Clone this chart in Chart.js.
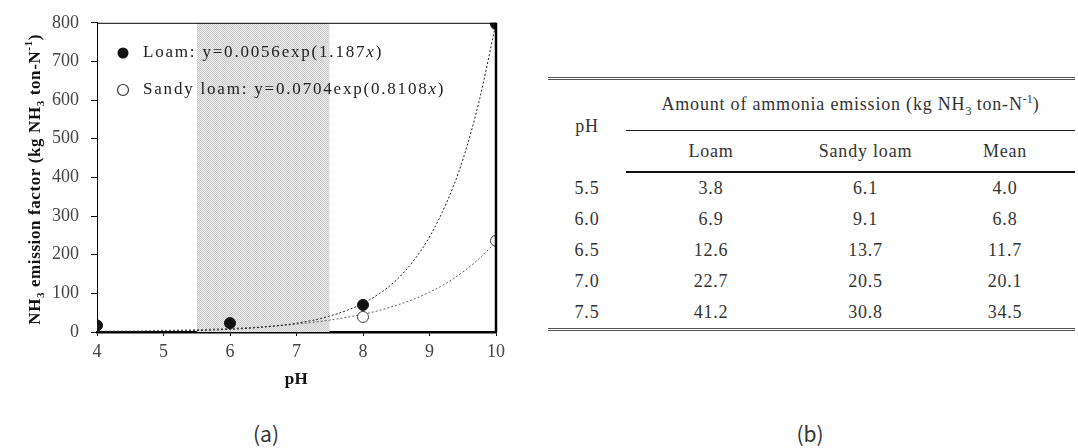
<!DOCTYPE html>
<html>
<head>
<meta charset="utf-8">
<script src="https://cdn.jsdelivr.net/npm/chart.js@4.4.1/dist/chart.umd.min.js"></script>
<style>
    html, body { margin: 0; padding: 0; background: #fff; }
    body { width: 1078px; height: 448px; position: relative; overflow: hidden; font-family: "Liberation Serif", serif; }
    #chartBox { position: absolute; left: 0; top: 0; width: 540px; height: 400px; }
    .legenda { position: absolute; top: 418px; width: 60px; text-align: center; line-height: 30px;
        font-family: "Noto Sans CJK KR", "DejaVu Sans", sans-serif; font-size: 21px; color: #333; }
    #tabela { position: absolute; left: 548px; top: 77px; width: 527px; border-collapse: collapse; table-layout: fixed;
        font-size: 18px; color: #333; letter-spacing: 0.8px; }
    #tabela th, #tabela td { padding: 0; text-align: center; vertical-align: middle; font-weight: normal; }
    #tabela tr.r1 th { height: 50px; border-top: 3px double #555; }
    #tabela th.grupo { border-bottom: 1px solid #222; }
    #tabela tr.r2 th { height: 40px; border-bottom: 2px solid #111; }
    #tabela td { height: 31px; }
    #tabela tbody tr:last-child td { border-bottom: 3px double #555; }
    #tabela sub, #tabela sup { font-size: 12px; letter-spacing: 0; }
</style>
</head>
<body>
<div id="chartBox"><canvas id="graficoPh"></canvas></div>
<div class="legenda" style="left:236px">(a)</div>
<div class="legenda" style="left:780px">(b)</div>

<table id="tabela">
    <colgroup><col style="width:78px"><col style="width:170px"><col style="width:139px"><col style="width:140px"></colgroup>
    <thead>
        <tr class="r1"><th rowspan="2">pH</th><th colspan="3" class="grupo">Amount of ammonia emission (kg NH<sub>3</sub> ton-N<sup>-1</sup>)</th></tr>
        <tr class="r2"><th>Loam</th><th>Sandy loam</th><th>Mean</th></tr>
    </thead>
    <tbody id="tabelaBody"></tbody>
</table>

<script>
// pontos medidos
const loamPh = [4, 6, 8, 10];
const loamValores = [17, 23, 70, 797];
const sandyPh = [8, 10];
const sandyValores = [39, 236];

// curvas ajustadas
const fitPh = [4, 4.5, 5, 5.5, 6, 6.5, 7, 7.5, 8, 8.25, 8.5, 8.75, 9, 9.25, 9.5, 9.75, 10];
const loamFit = [0.6, 1.2, 2.1, 3.8, 6.9, 12.6, 22.7, 41.2, 74, 100, 134, 182, 246, 332, 445, 600, 800];
const sandyFit = [1.8, 2.7, 4.1, 6.1, 9.1, 13.7, 20.5, 30.8, 46, 56, 69, 84, 103, 126, 155, 190, 233];

// faixa sombreada de pH
const faixaPh = [5.5, 7.5];

// tabela (b)
const tabelaPh = ['5.5', '6.0', '6.5', '7.0', '7.5'];
const tabelaLoam = ['3.8', '6.9', '12.6', '22.7', '41.2'];
const tabelaSandy = ['6.1', '9.1', '13.7', '20.5', '30.8'];
const tabelaMean = ['4.0', '6.8', '11.7', '20.1', '34.5'];

function renderizarTabela() {
    const corpo = document.getElementById('tabelaBody');
    tabelaPh.forEach((ph, i) => {
        const tr = document.createElement('tr');
        tr.innerHTML = `
            <td>${ph}</td>
            <td>${tabelaLoam[i]}</td>
            <td>${tabelaSandy[i]}</td>
            <td>${tabelaMean[i]}</td>
        `;
        corpo.appendChild(tr);
    });
}

function criarPadrao() {
    const c = document.createElement('canvas');
    c.width = 2; c.height = 2;
    const g = c.getContext('2d');
    g.fillStyle = '#efefef';
    g.fillRect(0, 0, 2, 2);
    g.fillStyle = '#c8c8c8';
    g.fillRect(0, 0, 1, 1);
    g.fillRect(1, 1, 1, 1);
    return g.createPattern(c, 'repeat');
}

// desenha texto em partes (normal, sub, sup, italico)
function desenharPartes(ctx, partes, x, y, tamanho, peso, espaco) {
    ctx.save();
    ctx.letterSpacing = espaco + 'px';
    partes.forEach(p => {
        let t = tamanho, dy = 0, estilo = '';
        if (p.m === 'sub') { t = tamanho * 0.65; dy = tamanho * 0.3; }
        if (p.m === 'sup') { t = tamanho * 0.65; dy = -tamanho * 0.38; }
        if (p.m === 'i') { estilo = 'italic '; }
        ctx.font = `${estilo}${peso} ${t}px "Liberation Serif", serif`;
        ctx.fillText(p.t, x, y + dy);
        x += ctx.measureText(p.t).width;
    });
    ctx.restore();
    return x;
}

function larguraPartes(ctx, partes, tamanho, peso, espaco) {
    ctx.save();
    ctx.letterSpacing = espaco + 'px';
    let w = 0;
    partes.forEach(p => {
        let t = tamanho, estilo = '';
        if (p.m === 'sub' || p.m === 'sup') t = tamanho * 0.65;
        if (p.m === 'i') estilo = 'italic ';
        ctx.font = `${estilo}${peso} ${t}px "Liberation Serif", serif`;
        w += ctx.measureText(p.t).width;
    });
    ctx.restore();
    return w;
}

const extras = {
    id: 'extras',
    afterDraw(chart) {
        const ctx = chart.ctx;
        const a = chart.chartArea;
        ctx.save();
        // moldura superior e direita
        ctx.strokeStyle = '#000';
        ctx.lineWidth = 1;
        ctx.beginPath();
        ctx.moveTo(a.left, a.top + 0.5);
        ctx.lineTo(a.right, a.top + 0.5);
        ctx.stroke();
        ctx.lineWidth = 2.5;
        ctx.beginPath();
        ctx.moveTo(a.right, a.top);
        ctx.lineTo(a.right, a.bottom);
        ctx.stroke();

        // titulo eixo x
        ctx.fillStyle = '#111';
        ctx.textBaseline = 'middle';
        ctx.textAlign = 'left';
        const tituloX = [{ t: 'pH' }];
        const wx = larguraPartes(ctx, tituloX, 17, 'bold', 0.5);
        desenharPartes(ctx, tituloX, (a.left + a.right) / 2 - wx / 2, 380, 17, 'bold', 0.5);

        // titulo eixo y
        const tituloY = [
            { t: 'NH' }, { t: '3', m: 'sub' }, { t: ' emission factor (kg NH' }, { t: '3', m: 'sub' },
            { t: ' ton-N' }, { t: '-1', m: 'sup' }, { t: ')' }
        ];
        const wy = larguraPartes(ctx, tituloY, 17, 'bold', 0.6);
        ctx.save();
        ctx.translate(36, (a.top + a.bottom) / 2 + 2);
        ctx.rotate(-Math.PI / 2);
        desenharPartes(ctx, tituloY, -wy / 2, 0, 17, 'bold', 0.6);
        ctx.restore();

        // legenda dentro do grafico
        const itens = [
            { y: 53, cheio: true, partes: [{ t: 'Loam: y=0.0056exp(1.187' }, { t: 'x', m: 'i' }, { t: ')' }] },
            { y: 90, cheio: false, partes: [{ t: 'Sandy loam: y=0.0704exp(0.8108' }, { t: 'x', m: 'i' }, { t: ')' }] }
        ];
        itens.forEach(it => {
            ctx.beginPath();
            ctx.arc(123, it.y, 5.5, 0, Math.PI * 2);
            if (it.cheio) {
                ctx.fillStyle = '#111';
                ctx.fill();
            } else {
                ctx.fillStyle = '#fff';
                ctx.fill();
                ctx.strokeStyle = '#333';
                ctx.lineWidth = 1.2;
                ctx.stroke();
            }
            ctx.fillStyle = '#222';
            desenharPartes(ctx, it.partes, 143, it.y, 17, 'normal', 1.8);
        });
        ctx.restore();
    }
};

function gerarGrafico() {
    const ctx = document.getElementById('graficoPh').getContext('2d');
    new Chart(ctx, {
        type: 'line',
        data: {
            datasets: [
                {
                    label: 'Loam',
                    data: loamPh.map((x, i) => ({ x: x, y: loamValores[i] })),
                    showLine: false,
                    pointRadius: 5.5,
                    pointBackgroundColor: '#111',
                    pointBorderColor: '#111',
                    order: 1
                },
                {
                    label: 'Sandy loam',
                    data: sandyPh.map((x, i) => ({ x: x, y: sandyValores[i] })),
                    showLine: false,
                    pointRadius: 5.5,
                    pointBackgroundColor: '#fff',
                    pointBorderColor: '#444',
                    pointBorderWidth: 1,
                    order: 2
                },
                {
                    label: 'Loam fit',
                    data: fitPh.map((x, i) => ({ x: x, y: loamFit[i] })),
                    borderColor: '#222',
                    borderWidth: 1,
                    borderDash: [2, 2],
                    pointRadius: 0,
                    cubicInterpolationMode: 'monotone',
                    order: 3
                },
                {
                    label: 'Sandy loam fit',
                    data: fitPh.map((x, i) => ({ x: x, y: sandyFit[i] })),
                    borderColor: '#666',
                    borderWidth: 1,
                    borderDash: [2, 2],
                    pointRadius: 0,
                    cubicInterpolationMode: 'monotone',
                    order: 4
                },
                {
                    label: 'Faixa',
                    data: faixaPh.map(x => ({ x: x, y: 800 })),
                    borderWidth: 0,
                    pointRadius: 0,
                    backgroundColor: criarPadrao(),
                    fill: 'origin',
                    order: 10
                }
            ]
        },
        options: {
            responsive: true,
            maintainAspectRatio: false,
            animation: false,
            layout: { padding: { left: 0, right: 44, top: 21, bottom: 0 } },
            plugins: {
                legend: { display: false },
                tooltip: { enabled: false }
            },
            scales: {
                x: {
                    type: 'linear',
                    min: 4,
                    max: 10,
                    ticks: { stepSize: 1, font: { family: '"Liberation Serif", serif', size: 18 }, color: '#444', padding: 5, maxRotation: 0 },
                    grid: { drawOnChartArea: false, drawTicks: true, tickLength: 4, color: '#000' },
                    border: { color: '#000', width: 2.5 },
                    afterFit: s => { s.height = 68; }
                },
                y: {
                    min: 0,
                    max: 800,
                    ticks: { stepSize: 100, font: { family: '"Liberation Serif", serif', size: 18 }, color: '#444', padding: 12 },
                    grid: { drawOnChartArea: false, drawTicks: true, tickLength: 6, color: '#000' },
                    border: { color: '#000', width: 1 },
                    afterFit: s => { s.width = 97; }
                }
            }
        },
        plugins: [extras]
    });
}

document.addEventListener('DOMContentLoaded', () => {
    renderizarTabela();
    gerarGrafico();
});
</script>
</body>
</html>
